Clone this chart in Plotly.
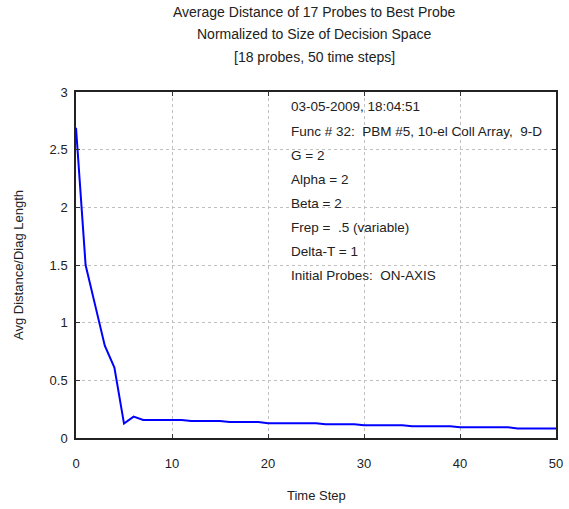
import plotly.graph_objects as go

time_steps = list(range(0, 51))
avg_distance = (
    [2.69, 1.50, 1.15, 0.80, 0.61, 0.125, 0.185]
    + [0.156] * 5      # 7..11
    + [0.147] * 4      # 12..15
    + [0.138] * 4      # 16..19
    + [0.128] * 6      # 20..25
    + [0.120] * 4      # 26..29
    + [0.111] * 5      # 30..34
    + [0.102] * 5      # 35..39
    + [0.094] * 6      # 40..45
    + [0.083] * 5      # 46..50
)

title_lines = [
    "Average Distance of 17 Probes to Best Probe",
    "Normalized to Size of Decision Space",
    "[18 probes, 50 time steps]",
]
info_lines = [
    "03-05-2009, 18:04:51",
    "Func # 32:  PBM #5, 10-el Coll Array,  9-D",
    "G = 2",
    "Alpha = 2",
    "Beta = 2",
    "Frep =  .5 (variable)",
    "Delta-T = 1",
    "Initial Probes:  ON-AXIS",
]
x_ticks = [0, 10, 20, 30, 40, 50]
y_ticks = [0, 0.5, 1, 1.5, 2, 2.5, 3]
y_tick_labels = ["0", "0.5", "1", "1.5", "2", "2.5", "3"]

W, H = 569, 509
L, R, T, B = 76, 13, 92, 71
plot_h = H - T - B
plot_w = W - L - R

fig = go.Figure()
fig.add_trace(go.Scatter(
    x=time_steps, y=avg_distance, mode="lines",
    line=dict(color="#0000FF", width=2), showlegend=False,
))

fam = "Liberation Sans, Arial, sans-serif"
tick_font = dict(family=fam, size=13, color="#222222")
title_font = dict(family=fam, size=14, color="#222222")
info_font = dict(family=fam, size=13.5, color="#222222")
axis_font = dict(family=fam, size=13, color="#222222")

annotations = []
title_y = [12, 34, 57]
for txt, py in zip(title_lines, title_y):
    annotations.append(dict(
        text=txt, xref="paper", yref="paper",
        x=(314 - L) / plot_w, y=(H - B - py) / plot_h, xanchor="center", yanchor="middle",
        showarrow=False, font=title_font,
    ))
for i, txt in enumerate(info_lines):
    py = 107 + 24 * i
    annotations.append(dict(
        text=txt, xref="paper", yref="paper",
        x=(289 - L) / plot_w, y=(H - B - py) / plot_h,
        xanchor="left", yanchor="middle", showarrow=False, font=info_font,
    ))
annotations.append(dict(
    text="Time Step", xref="paper", yref="paper",
    x=(316 - L) / plot_w, y=(H - B - 495) / plot_h, xanchor="center", yanchor="middle",
    showarrow=False, font=axis_font,
))
annotations.append(dict(
    text="Avg Distance/Diag Length", xref="paper", yref="paper",
    x=(18 - L) / plot_w, y=(H - B - 265) / plot_h, xanchor="center", yanchor="middle",
    textangle=-90, showarrow=False, font=axis_font,
))

axis_common = dict(
    ticks="inside", ticklen=4, tickcolor="#333333",
    showline=True, linecolor="#222222", linewidth=1.5, mirror="ticks",
    showgrid=True, gridcolor="#c0c0c0", griddash="3px,3px", gridwidth=1,
    zeroline=False, automargin=False, tickfont=tick_font,
)

fig.update_layout(
    width=W, height=H,
    margin=dict(l=L, r=R, t=T, b=B, autoexpand=False),
    paper_bgcolor="white", plot_bgcolor="white",
    font=tick_font,
    annotations=annotations,
    xaxis=dict(range=[0, 50], tickvals=x_ticks, ticklabelstandoff=13, **axis_common),
    yaxis=dict(range=[0, 3], tickvals=y_ticks, ticktext=y_tick_labels,
               ticklabelstandoff=4, **axis_common),
)

fig.write_html(
    "out.html",
    config={"displayModeBar": False},
    post_script="document.body.style.margin='0';",
)
